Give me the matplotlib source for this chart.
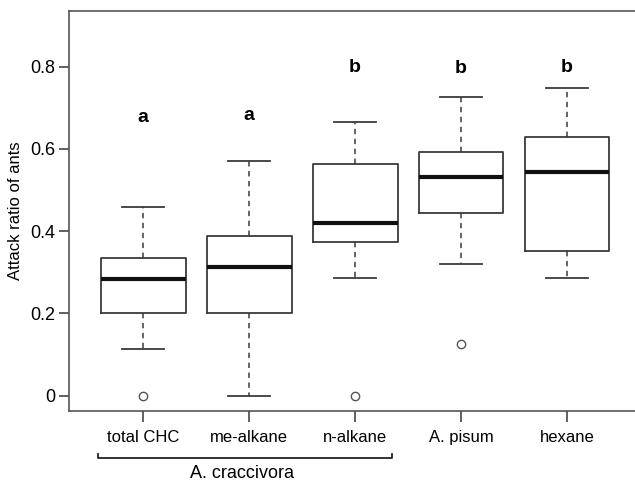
import matplotlib
matplotlib.use('Agg')
import matplotlib.pyplot as plt

plt.rcParams['font.family'] = ['Liberation Sans', 'DejaVu Sans']

# data (five-number summaries + outliers)
groups = ['total CHC', 'me-alkane', 'n-alkane', 'A. pisum', 'hexane']
whislo = [0.113, 0.0, 0.285, 0.319, 0.285]
q1 = [0.201, 0.201, 0.374, 0.445, 0.353]
med = [0.283, 0.312, 0.420, 0.531, 0.543]
q3 = [0.335, 0.389, 0.562, 0.593, 0.628]
whishi = [0.458, 0.570, 0.666, 0.726, 0.749]
fliers = [[0.0], [], [0.0], [0.126], []]
letters = ['a', 'a', 'b', 'b', 'b']
letter_y = [0.677, 0.680, 0.797, 0.795, 0.797]
yticks = [0, 0.2, 0.4, 0.6, 0.8]
ytick_labels = ['0', '0.2', '0.4', '0.6', '0.8']
bracket_label = 'A. craccivora'

edge = '#3a3a3a'

fig = plt.figure(figsize=(6.35, 4.82), dpi=100)
ax = fig.add_axes([69 / 635, 1 - 411 / 482, 568 / 635, 400 / 482])

stats = []
for i in range(len(groups)):
    stats.append(dict(label=groups[i], whislo=whislo[i], q1=q1[i], med=med[i],
                      q3=q3[i], whishi=whishi[i], fliers=fliers[i]))

pos = list(range(1, len(groups) + 1))
ax.bxp(stats, positions=pos, widths=0.8, showfliers=True,
       boxprops=dict(color=edge, linewidth=1.3),
       medianprops=dict(color='#111111', linewidth=3),
       whiskerprops=dict(color=edge, linewidth=1.1, linestyle=(0, (3.5, 3))),
       capprops=dict(color=edge, linewidth=1.3),
       capwidths=0.4,
       flierprops=dict(marker='o', markerfacecolor='white', markeredgecolor='#555555',
                       markersize=6, markeredgewidth=1.0))

for p, l, y in zip(pos, letters, letter_y):
    ax.text(p, y, l, ha='center', va='center', fontsize=14, fontweight='bold')

ax.set_xlim(0.30, 5.66)
ax.set_ylim(-0.037, 0.935)
ax.set_yticks(yticks)
ax.set_yticklabels(ytick_labels, fontsize=13)
ax.set_xticks(pos)
ax.set_xticklabels(groups, fontsize=12)
ax.tick_params(axis='y', direction='out', length=7, width=1.2, color='#444444', pad=3)
ax.tick_params(axis='x', direction='out', length=8, width=1.2, color='#444444', pad=6)
ax.set_ylabel('Attack ratio of ants', fontsize=12, labelpad=5)
for s in ax.spines.values():
    s.set_color('#555555')
    s.set_linewidth(1.2)

# bracket under the first three groups
ax.plot([0.57, 0.57, 3.35, 3.35], [-0.142, -0.152, -0.152, -0.142], color='#222222',
        linewidth=1.3, clip_on=False)
ax.text(1.93, -0.188, bracket_label, ha='center', va='center', fontsize=13)

fig.savefig('out.png', dpi=100)
